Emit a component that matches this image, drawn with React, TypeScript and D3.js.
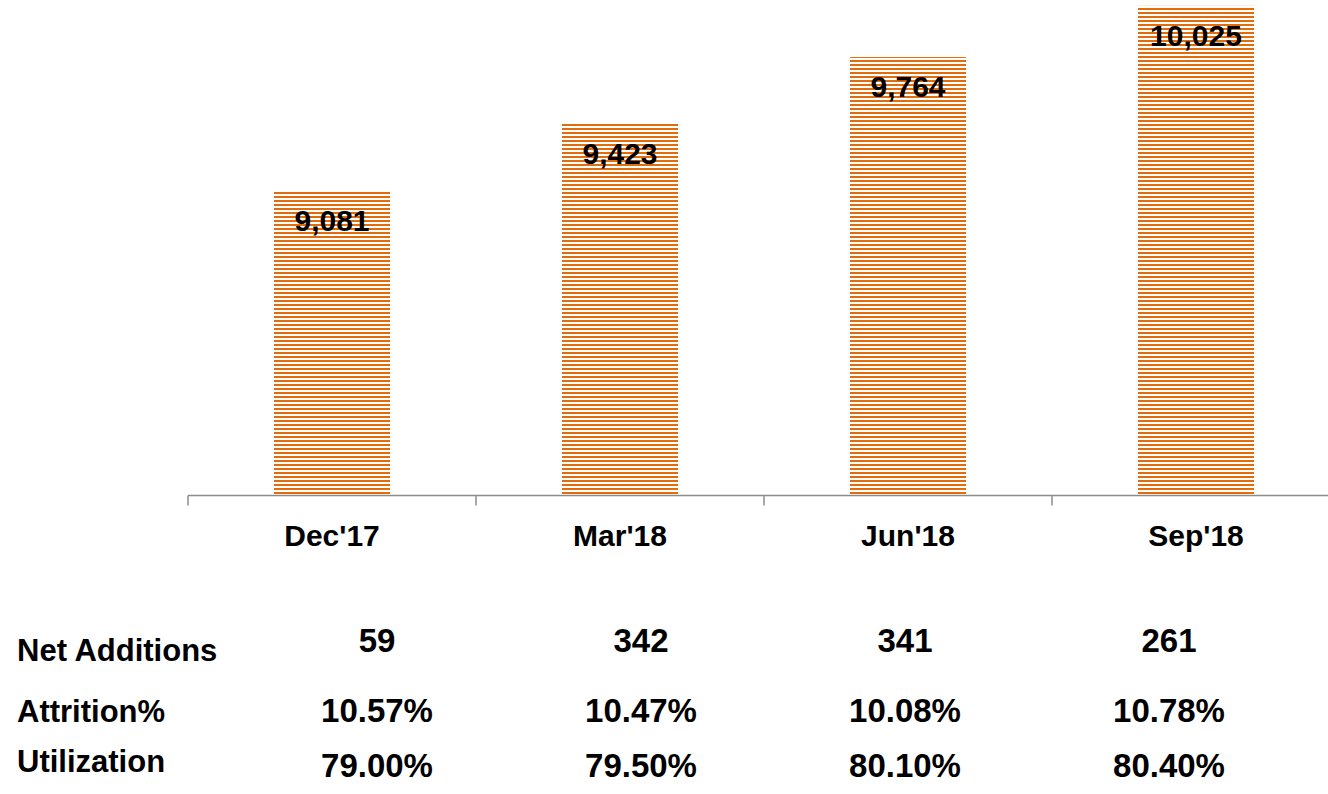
import * as d3 from "d3";
import { useEffect, useRef } from "react";

const quarters = ["Dec'17", "Mar'18", "Jun'18", "Sep'18"];
const headcount = [9081, 9423, 9764, 10025];

const rowLabels = ["Net Additions", "Attrition%", "Utilization"];
const netAdditions = ["59", "342", "341", "261"];
const attrition = ["10.57%", "10.47%", "10.08%", "10.78%"];
const utilization = ["79.00%", "79.50%", "80.10%", "80.40%"];

function App() {
  const ref = useRef<SVGSVGElement>(null);

  useEffect(() => {
    const W = 1328, H = 794;
    const font = "'Liberation Sans', Arial, sans-serif";
    const orange = "#e36c0a";

    const svg = d3.select(ref.current).attr("width", W).attr("height", H);
    svg.selectAll("*").remove();

    // striped fill
    const defs = svg.append("defs");
    const pat = defs.append("pattern").attr("id", "stripes")
      .attr("patternUnits", "userSpaceOnUse").attr("width", 8).attr("height", 4);
    pat.append("rect").attr("width", 8).attr("height", 4).attr("fill", "#fff");
    pat.append("rect").attr("y", 0).attr("width", 8).attr("height", 2).attr("fill", orange);

    const x = d3.scaleBand().domain(quarters).range([188, 188 + 288 * 4]);
    const y = d3.scaleLinear().domain([7530, 10055]).range([495, 0]);
    const barW = 116;

    const g = svg.append("g");

    g.selectAll("rect.bar").data(headcount).join("rect")
      .attr("class", "bar")
      .attr("x", (_, i) => x(quarters[i])! + x.bandwidth() / 2 - barW / 2)
      .attr("y", d => y(d))
      .attr("width", barW)
      .attr("height", d => y.range()[0] - y(d))
      .attr("fill", "url(#stripes)");

    g.selectAll("text.val").data(headcount).join("text")
      .attr("class", "val")
      .attr("x", (_, i) => x(quarters[i])! + x.bandwidth() / 2)
      .attr("y", d => y(d) + 40)
      .attr("text-anchor", "middle")
      .attr("font-family", font).attr("font-weight", "bold").attr("font-size", 30)
      .attr("fill", "#000")
      .text(d => d3.format(",")(d));

    // x axis
    const axis = svg.append("g").attr("transform", "translate(0,495.5)");
    axis.append("line").attr("x1", 188).attr("x2", W).attr("stroke", "#8c8c8c").attr("stroke-width", 1.5);
    const ticks = quarters.map(q => x(q)!).concat([x.range()[1]]);
    axis.selectAll("line.tick").data(ticks).join("line")
      .attr("class", "tick")
      .attr("x1", d => d).attr("x2", d => d)
      .attr("y1", 0).attr("y2", 10)
      .attr("stroke", "#8c8c8c").attr("stroke-width", 1.5);
    axis.selectAll("text").data(quarters).join("text")
      .attr("x", d => x(d)! + x.bandwidth() / 2)
      .attr("y", 50)
      .attr("text-anchor", "middle")
      .attr("font-family", font).attr("font-weight", "bold").attr("font-size", 30)
      .text(d => d);

    // table below
    const col = d3.scalePoint().domain(quarters).range([377, 1169]);
    const rows = [
      { label: rowLabels[0], vals: netAdditions, ly: 661, vy: 652 },
      { label: rowLabels[1], vals: attrition, ly: 722, vy: 722 },
      { label: rowLabels[2], vals: utilization, ly: 772, vy: 777 },
    ];
    const tbl = svg.append("g");
    rows.forEach(r => {
      tbl.append("text")
        .attr("x", 17).attr("y", r.ly)
        .attr("font-family", font).attr("font-weight", "bold").attr("font-size", 31)
        .text(r.label);
      tbl.selectAll(null).data(r.vals).join("text")
        .attr("x", (_, i) => col(quarters[i])!)
        .attr("y", r.vy)
        .attr("text-anchor", "middle")
        .attr("font-family", font).attr("font-weight", "bold").attr("font-size", 33)
        .text(d => d);
    });
  }, []);

  return (
    <svg ref={ref} style={{ position: "absolute", left: 0, top: 0, background: "#fff" }} />
  );
}

export default App;
